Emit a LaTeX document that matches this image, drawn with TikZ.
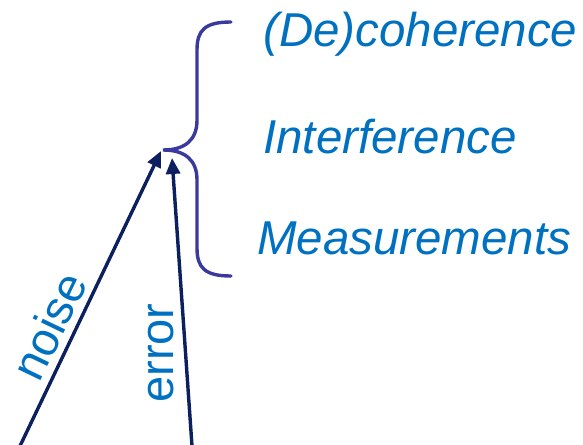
\documentclass[tikz,border=0pt]{standalone}
\usepackage{fontspec}
\setmainfont{Liberation Sans}
\usetikzlibrary{arrows.meta}
\definecolor{txtblue}{HTML}{0070C0}
\definecolor{bracecol}{HTML}{3A3A9E}
\definecolor{arrcol}{HTML}{0C1F5E}
\begin{document}
\begin{tikzpicture}[x=1pt,y=-1pt,
  lbl/.style={text=txtblue,font=\fontsize{47.5}{52}\selectfont\itshape,inner sep=0pt},
  albl/.style={text=txtblue,font=\fontsize{47}{52}\selectfont,inner sep=0pt},
  bracestyle/.style={draw=bracecol,line width=3.4pt,line cap=round},
  arr/.style={draw=arrcol,line width=3.4pt,-{Triangle[length=16pt,width=14pt]}}]
\useasboundingbox (0,0) rectangle (583,444);
\coordinate (tip) at (163,150);
\coordinate (btop) at (231,22);
\coordinate (bbot) at (231,276);
\coordinate (nstart) at (20,446);
\coordinate (nend) at (161,151);
\coordinate (estart) at (192,446);
\coordinate (eend) at (172,158);
\node[lbl,anchor=base west] (dec) at (263,47) {(De)coherence};
\node[lbl,anchor=base west] (intf) at (263,153) {Interference};
\node[lbl,anchor=base west] (meas) at (257,254) {Measurements};
\draw[bracestyle] (btop) .. controls (205,22) and (197,30) .. (197,50)
  -- (197,120) .. controls (197,140) and (185,150) .. (tip)
  .. controls (185,150) and (197,160) .. (197,180)
  -- (197,248) .. controls (197,268) and (205,276) .. (bbot);
\draw[arr] (nstart) -- (nend);
\draw[arr] (estart) -- (eend);
\node[albl,rotate=64.3] (noise) at (49,326) {noise};
\node[albl,rotate=90] (err) at (161,353) {error};
\end{tikzpicture}
\end{document}
